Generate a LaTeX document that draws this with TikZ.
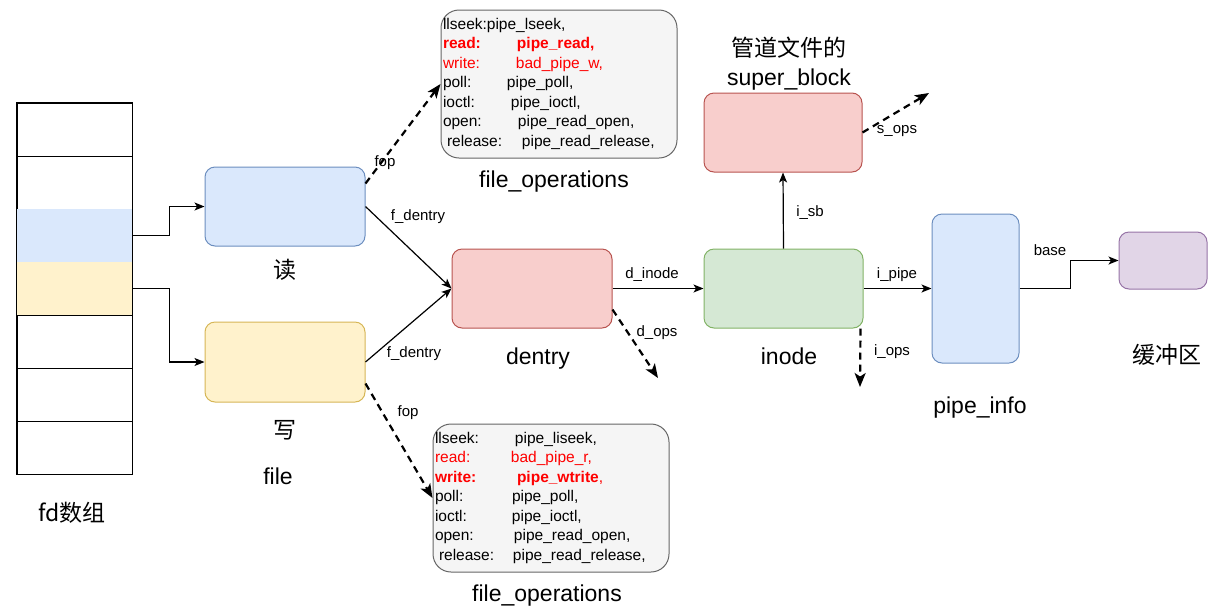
\documentclass[tikz,border=0pt]{standalone}
\usepackage{fontspec}
\setmainfont{Liberation Sans}
\newfontfamily\cjk{Noto Sans CJK SC}
\usetikzlibrary{arrows.meta}
\definecolor{bluefill}{HTML}{DAE8FC}
\definecolor{blueline}{HTML}{6C8EBF}
\definecolor{yellowfill}{HTML}{FFF2CC}
\definecolor{yellowline}{HTML}{D6B656}
\definecolor{redfill}{HTML}{F8CECC}
\definecolor{redline}{HTML}{B85450}
\definecolor{greenfill}{HTML}{D5E8D4}
\definecolor{greenline}{HTML}{82B366}
\definecolor{purplefill}{HTML}{E1D5E7}
\definecolor{purpleline}{HTML}{9673A6}
\definecolor{opsfill}{HTML}{F5F5F5}
\definecolor{opsline}{HTML}{666666}
\definecolor{hot}{HTML}{FF0000}
\newcommand{\fld}[2]{\makebox[#1pt][l]{#2}}
\tikzset{
    fdcell/.style={rectangle, draw=black, line width=1pt, minimum width=115pt, minimum height=53pt, inner sep=0pt},
    obj/.style={rectangle, rounded corners=10pt, line width=1pt, inner sep=0pt},
    opsbox/.style={rectangle, rounded corners=18pt, draw=opsline, fill=opsfill, line width=1pt, align=left, inner xsep=2pt, inner ysep=0pt, text width=232pt, minimum width=236pt, minimum height=148pt, font=\fontsize{15.5}{19.5}\selectfont},
    biglabel/.style={font=\fontsize{23}{29}\selectfont, align=center, inner sep=0pt},
    lbl/.style={font=\fontsize{15}{18}\selectfont, inner sep=0pt, yshift=-2pt},
    arrow/.style={-{Stealth[length=10pt, width=8pt, inset=2.5pt]}, line width=1.2pt},
    ptr/.style={-{Stealth[length=14pt, width=11pt, inset=3.5pt]}, line width=2.2pt, dash pattern=on 7pt off 5pt}
}
\begin{document}
\begin{tikzpicture}[x=1pt, y=-1pt]
    \useasboundingbox (0,0) rectangle (1217,614);

    % fd array
    \foreach \i in {0,...,6} {
        \node[fdcell] (fd\i) at (74.5, {129.5+53*\i}) {};
    }
    \node[fdcell, fill=bluefill, draw=none] at (fd2) {};
    \node[fdcell, fill=yellowfill, draw=none] at (fd3) {};
    \draw[line width=1pt] (fd0.north west) rectangle (fd6.south east);
    \node[biglabel] (fdname) at (72, 513) {\cjk fd数组};

    % file objects
    \node[obj, draw=blueline, fill=bluefill, minimum width=160pt, minimum height=79pt] (rfile) at (285, 206.5) {};
    \node[obj, draw=yellowline, fill=yellowfill, minimum width=160pt, minimum height=80pt] (wfile) at (285, 362) {};
    \node[biglabel] (rname) at (285, 270) {\cjk 读};
    \node[biglabel] (wname) at (285, 430) {\cjk 写};
    \node[biglabel] (filename) at (278, 476) {file};

    % file operations
    \node[opsbox] (rops) at (559, 84) {\begin{tabular}{@{}l@{}}
        llseek:pipe\_lseek,\\
        \color{hot}\bfseries\fld{74}{read:}pipe\_read,\\
        \color{hot}\fld{73}{write:}bad\_pipe\_w,\\
        \fld{64}{poll:}pipe\_poll,\\
        \fld{68}{ioctl:}pipe\_ioctl,\\
        \fld{75}{open:}pipe\_read\_open,\\
        \fld{79}{\hspace{4pt}release:}pipe\_read\_release,
    \end{tabular}};
    \node[opsbox] (wops) at (551, 498) {\begin{tabular}{@{}l@{}}
        \fld{80}{llseek:}pipe\_liseek,\\
        \color{hot}\fld{76}{read:}bad\_pipe\_r,\\
        \color{hot}{\bfseries\fld{82}{write:}pipe\_wtrite},\\
        \fld{77}{poll:}pipe\_poll,\\
        \fld{77}{ioctl:}pipe\_ioctl,\\
        \fld{79}{open:}pipe\_read\_open,\\
        \fld{78}{\hspace{4pt}release:}pipe\_read\_release,
    \end{tabular}};
    \node[biglabel] (ropsname) at (554, 182) {file\_operations};
    \node[biglabel] (wopsname) at (547, 596) {file\_operations};

    % dentry, inode, super_block
    \node[obj, draw=redline, fill=redfill, minimum width=160pt, minimum height=79pt] (dentry) at (532, 288.5) {};
    \node[biglabel] (dentryname) at (538, 359) {dentry};
    \node[obj, draw=greenline, fill=greenfill, minimum width=159pt, minimum height=79pt] (inode) at (783.5, 288.5) {};
    \node[biglabel] (inodename) at (789, 356) {inode};
    \node[obj, draw=redline, fill=redfill, minimum width=158pt, minimum height=79pt] (sblock) at (783, 132.5) {};
    \node[biglabel] (sblockname) at (789, 64) {{\cjk 管道文件的}\\super\_block};

    % pipe_info and buffer
    \node[obj, draw=blueline, fill=bluefill, minimum width=87pt, minimum height=149pt] (pinfo) at (975.5, 288.5) {};
    \node[biglabel] (pinfoname) at (980, 408) {pipe\_info};
    \node[obj, draw=purpleline, fill=purplefill, minimum width=88pt, minimum height=57pt] (buf) at (1163, 260.5) {};
    \node[biglabel] (bufname) at (1167, 355) {\cjk 缓冲区};

    % free ends
    \coordinate (dops) at (658, 378);
    \coordinate (iops) at (860, 387);
    \coordinate (sops) at (929, 93);

    % solid pointers
    \draw[arrow] (fd2.east) -- ++(37,0) |- (rfile.west);
    \draw[arrow] (fd3.east) -- ++(37,0) |- (wfile.west);
    \draw[arrow] (rfile.east) -- (dentry.west);
    \draw[arrow] (wfile.east) -- (dentry.west);
    \draw[arrow] (dentry.east) -- (inode.west);
    \draw[arrow] (inode.north) -- (sblock.south);
    \draw[arrow] (inode.east) -- (pinfo.west);
    \draw[arrow] (pinfo.east) -- ++(51,0) |- (buf.west);

    % dashed pointers
    \draw[ptr] ([yshift=-17pt]rfile.north east) -- (rops.west);
    \draw[ptr] ([yshift=19pt]wfile.south east) -- (wops.west);
    \draw[ptr] ([yshift=19pt]dentry.south east) -- (dops);
    \draw[ptr] ([xshift=-3pt]inode.south east) -- (iops);
    \draw[ptr] (sblock.east) -- (sops);

    % pointer labels
    \node[lbl] (rfop) at (385, 161) {fop};
    \node[lbl] (wfop) at (408, 411) {fop};
    \node[lbl] (rfd) at (418, 215) {f\_dentry};
    \node[lbl] (wfd) at (414, 352) {f\_dentry};
    \node[lbl] (din) at (652, 273) {d\_inode};
    \node[lbl] (dop) at (657, 331) {d\_ops};
    \node[lbl] (isb) at (810, 211) {i\_sb};
    \node[lbl] (sop) at (897, 129) {s\_ops};
    \node[lbl] (iop) at (892, 350) {i\_ops};
    \node[lbl] (ipi) at (897, 273) {i\_pipe};
    \node[lbl] (bas) at (1050, 248) {base};
\end{tikzpicture}
\end{document}
